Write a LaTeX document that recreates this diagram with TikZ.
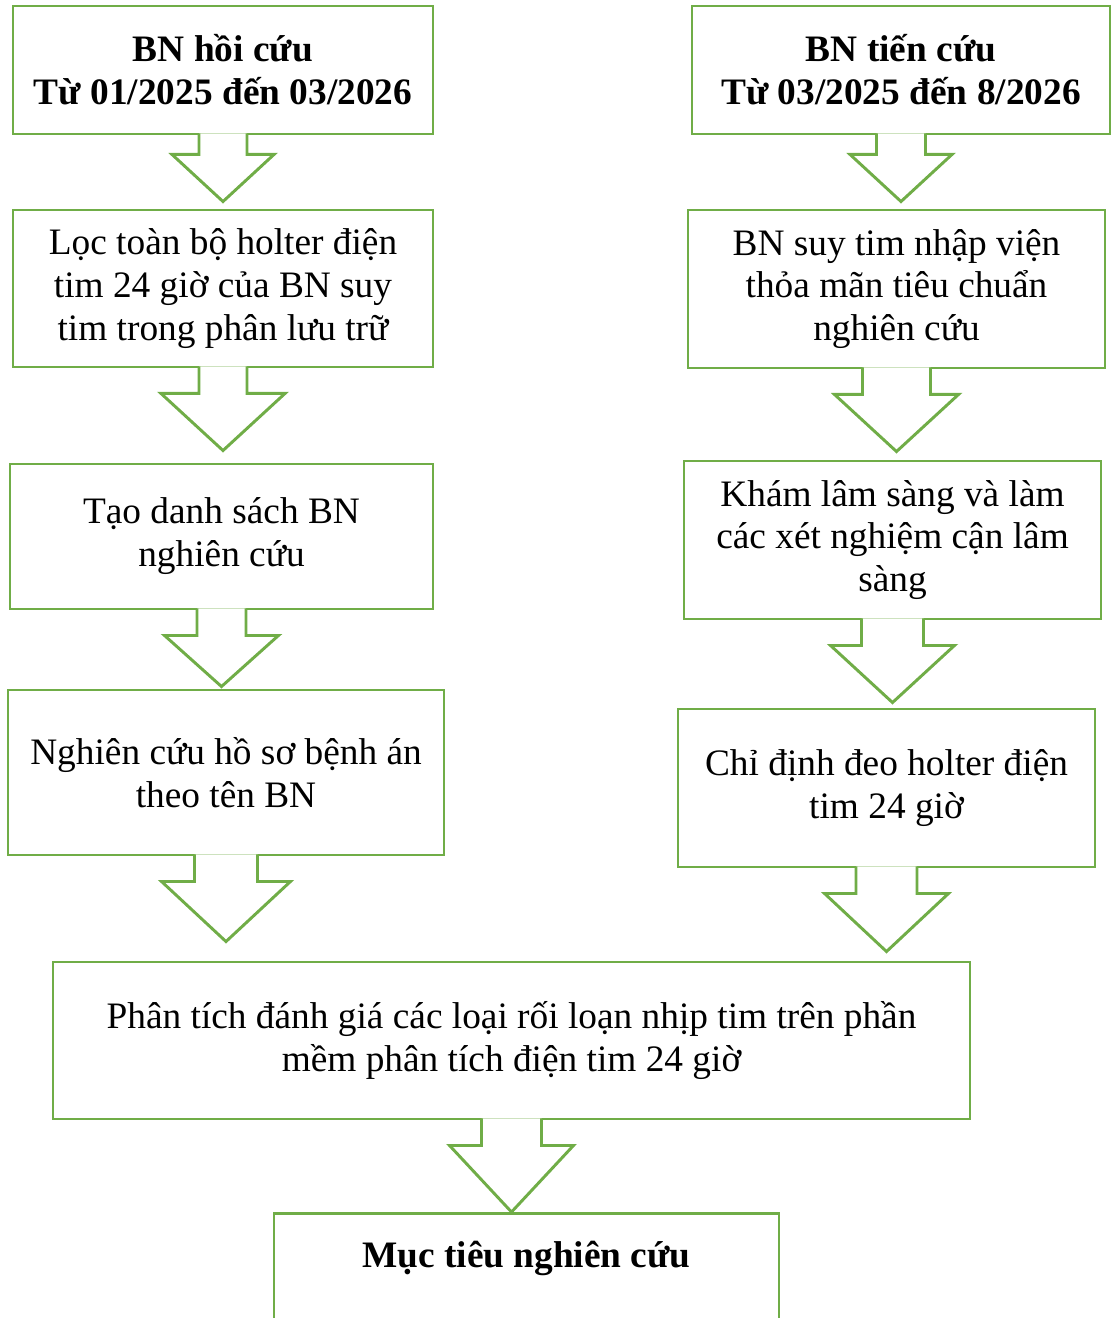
\documentclass[tikz,border=0pt]{standalone}
\usepackage{fontspec}
\setmainfont{Liberation Serif}
\usetikzlibrary{calc}
\definecolor{boxgreen}{HTML}{70AD47}
\newcommand{\px}[1]{#1*0.375pt}

\tikzset{
	stage/.style={draw=boxgreen, line width=1.1pt, align=center, inner sep=0pt,
		font=\fontsize{14}{16.1}\selectfont},
	title/.style={stage, font=\fontsize{14}{16.1}\selectfont\bfseries},
	flow/.style={draw=boxgreen, fill=white, line width=1.1pt, line join=miter}
}
% block arrow: [stem length]{from}{to}{stem half width}{head half width}{gap above target}
\newcommand{\blockarrow}[6][25]{%
	\filldraw[flow] ($(#2.south)+(-#4,-2)$) -- ($(#2.south)+(-#4,#1)$) -- ($(#2.south)+(-#5,#1)$)
		-- ($(#2.south |- #3.north)+(0,-#6)$)
		-- ($(#2.south)+(#5,#1)$) -- ($(#2.south)+(#4,#1)$) -- ($(#2.south)+(#4,-2)$);
}

\begin{document}
\begin{tikzpicture}[x=0.375pt,y=-0.375pt]
					\useasboundingbox (0,0) rectangle (1111,1318);
					%LEFT: retrospective
					\node[title, minimum width=\px{420}, minimum height=\px{128}] (retro) at (223,70) {BN hồi cứu\\Từ 01/2025 đến 03/2026};
					\node[stage, minimum width=\px{420}, minimum height=\px{157}] (filter) at (223,288.5) {Lọc toàn bộ holter điện\\tim 24 giờ của BN suy\\tim trong phân lưu trữ};
					\node[stage, minimum width=\px{423}, minimum height=\px{145}] (list) at (221.5,536.5) {Tạo danh sách BN\\nghiên cứu};
					\node[stage, minimum width=\px{436}, minimum height=\px{165}] (records) at (226,772.5) {Nghiên cứu hồ sơ bệnh án\\theo tên BN};
					%RIGHT: prospective
					\node[title, minimum width=\px{418}, minimum height=\px{128}] (prosp) at (901,70) {BN tiến cứu\\Từ 03/2025 đến 8/2026};
					\node[stage, minimum width=\px{417}, minimum height=\px{158}] (admit) at (896.5,289) {BN suy tim nhập viện\\thỏa mãn tiêu chuẩn\\nghiên cứu};
					\node[stage, minimum width=\px{417}, minimum height=\px{158}] (exam) at (892.5,540) {Khám lâm sàng và làm\\các xét nghiệm cận lâm\\sàng};
					\node[stage, minimum width=\px{417}, minimum height=\px{158}] (holter) at (886.5,788) {Chỉ định đeo holter điện\\tim 24 giờ};
					%COMMON
					\node[stage, minimum width=\px{917}, minimum height=\px{157}, font=\fontsize{14}{16.4}\selectfont] (analysis) at (511.5,1040.5) {Phân tích đánh giá các loại rối loạn nhịp tim trên phần\\mềm phân tích điện tim 24 giờ};
					\node[stage, minimum width=\px{505}, minimum height=\px{200}, anchor=north] (goal) at (526.5,1212) {};
					\node[title, draw=none] (goaltext) at ($(goal.north)+(0,46)$) {Mục tiêu nghiên cứu};
					%ARROWS
					\blockarrow[19]{retro}{filter}{24}{51}{7}
					\blockarrow{filter}{list}{24}{62}{12}
					\blockarrow{list}{records}{24.5}{57}{2}
					\blockarrow{records}{analysis}{31.5}{64.5}{19}
					\blockarrow[19]{prosp}{admit}{24.5}{51}{7}
					\blockarrow{admit}{exam}{34}{62}{8}
					\blockarrow{exam}{holter}{31}{62}{5}
					\blockarrow{holter}{analysis}{30.5}{62}{9}
					\blockarrow{analysis}{goal}{30}{62}{0}
				  \end{tikzpicture}
\end{document}
